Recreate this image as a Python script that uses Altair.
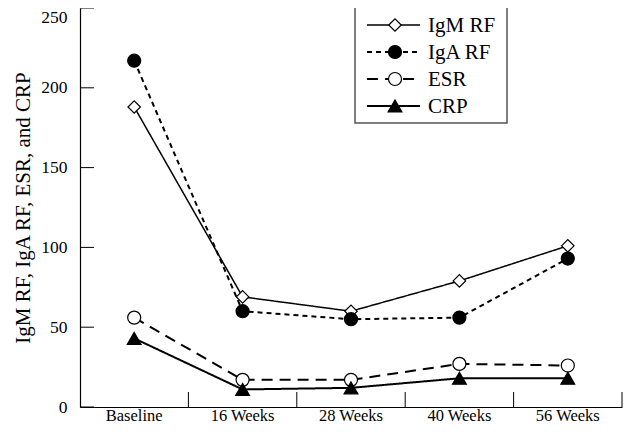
import altair as alt
import pandas as pd

times = ["Baseline", "16 Weeks", "28 Weeks", "40 Weeks", "56 Weeks"]
series = ["IgM RF", "IgA RF", "ESR", "CRP"]
igm_rf = [188, 69, 60, 79, 101]
iga_rf = [217, 60, 55, 56, 93]
esr = [56, 17, 17, 27, 26]
crp = [43, 11, 12, 18, 18]
y_ticks = [0, 50, 100, 150, 200, 250]

values = [igm_rf, iga_rf, esr, crp]
shapes = ["diamond", "circle", "circle", "triangle-up"]
fills = ["white", "black", "white", "black"]
dashes = [[1, 0], [5, 4], [11, 7], [1, 0]]
widths = [1.5, 2, 2, 2]
sizes = [155, 170, 170, 190]

FONT = "Liberation Serif"
W, H = 542, 399

df = pd.DataFrame(
    [{"time": t, "series": s, "value": v}
     for s, vals in zip(series, values) for t, v in zip(times, vals)]
)

xscale = alt.Scale(type="band", domain=times, paddingInner=0, paddingOuter=0)
yscale = alt.Scale(domain=[0, 250], nice=False)

xenc = alt.X("time:N", sort=times, scale=xscale,
             axis=alt.Axis(title=None, labelAngle=0, tickSize=0, labelPadding=0,
                           labelFontSize=16.5))
yenc = alt.Y("value:Q", scale=yscale,
             axis=alt.Axis(title="IgM RF, IgA RF, ESR, and CRP", values=y_ticks,
                           tickSize=0, labelPadding=13, titlePadding=7,
                           labelFontSize=17.5, titleFontSize=21, grid=False,
                           labelBaseline={"condition": {"test": "datum.value == 250",
                                                        "value": "top"},
                                          "value": "middle"}))

layers = []
for i, s in enumerate(series):
    sub = df[df.series == s]
    layers.append(
        alt.Chart(sub).mark_line(color="black", strokeWidth=widths[i],
                                 strokeDash=dashes[i]).encode(x=xenc, y=yenc)
    )
for i, s in enumerate(series):
    sub = df[df.series == s]
    layers.append(
        alt.Chart(sub).mark_point(shape=shapes[i], filled=True, fill=fills[i],
                                  stroke="black", strokeWidth=1.2, size=sizes[i],
                                  opacity=1).encode(x=xenc, y=yenc)
    )

# inward axis ticks
tick_df = pd.DataFrame({"time": times})
layers.append(
    alt.Chart(tick_df).mark_rule(color="black", strokeWidth=1).encode(
        x=alt.X("time:N", sort=times, scale=xscale, bandPosition=1),
        y=alt.value(H), y2=alt.value(H - 15))
)
ytick_df = pd.DataFrame({"value": y_ticks})
layers.append(
    alt.Chart(ytick_df).mark_rule(color="black", strokeWidth=1).encode(
        y=alt.Y("value:Q", scale=yscale), x=alt.value(0), x2=alt.value(14))
)

# legend box and entries
one = pd.DataFrame({"a": [0]})
layers.append(
    alt.Chart(one).mark_rect(fill="white", stroke="#555555", strokeWidth=1.5).encode(
        x=alt.value(275), x2=alt.value(427), y=alt.value(-2), y2=alt.value(115))
)
row_y = [17, 44, 71, 98]
for i, s in enumerate(series):
    ld = pd.DataFrame({"name": [s]})
    layers.append(
        alt.Chart(ld).mark_rule(color="black", strokeWidth=widths[i],
                                strokeDash=dashes[i]).encode(
            x=alt.value(287), x2=alt.value(340), y=alt.value(row_y[i]))
    )
    layers.append(
        alt.Chart(ld).mark_point(shape=shapes[i], filled=True, fill=fills[i],
                                 stroke="black", strokeWidth=1.2, size=sizes[i],
                                 opacity=1).encode(
            x=alt.value(315), y=alt.value(row_y[i]))
    )
    layers.append(
        alt.Chart(ld).mark_text(font=FONT, fontSize=21, align="left",
                                baseline="middle", color="black").encode(
            x=alt.value(348), y=alt.value(row_y[i] + 1), text="name:N")
    )

chart = alt.layer(*layers).properties(
    width=W, height=H,
    autosize=alt.AutoSizeParams(type="none"),
    padding={"left": 72, "top": 0, "right": 8, "bottom": 17},
).configure_view(stroke=None).configure_axis(
    labelFont=FONT, titleFont=FONT, labelColor="black", titleColor="black",
    titleFontWeight="normal", domainColor="black", domainWidth=1.2,
)

chart.save("out.html", embed_options={"renderer": "svg", "actions": False})
